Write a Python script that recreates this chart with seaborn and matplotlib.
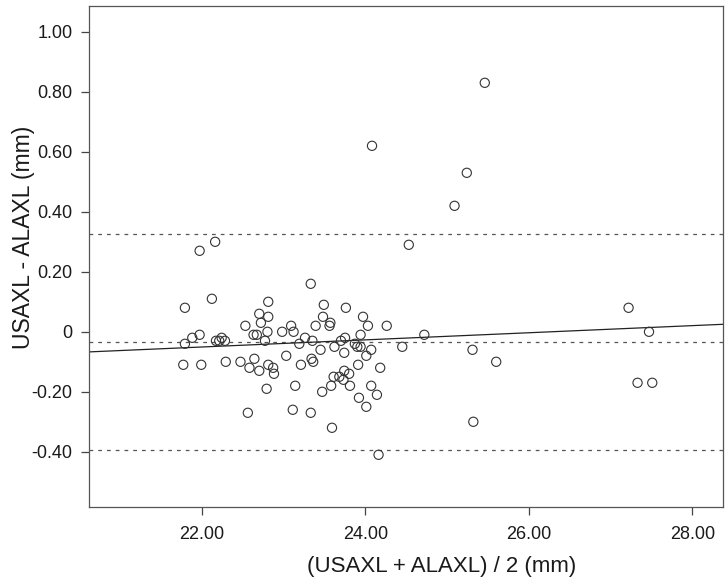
import numpy as np
import pandas as pd
import matplotlib
matplotlib.use("Agg")
import matplotlib.pyplot as plt
import seaborn as sns

# mean of the two measurements (mm)
mean_mm = [22.16, 21.97, 22.12, 21.79, 21.97, 21.88, 21.79, 22.17, 22.21, 22.24,
           22.28, 21.77, 21.99, 22.29, 22.47, 23.33, 22.81, 23.49, 22.70, 22.81,
           23.48, 22.72, 22.53, 23.57, 23.56, 23.39, 23.09, 22.80, 22.98, 23.12,
           22.63, 22.67, 22.77, 23.26, 23.35, 23.19, 23.62, 23.45, 23.03, 22.64,
           22.58, 22.81, 22.87, 22.88, 22.70, 23.34, 23.36, 23.21, 23.61, 23.58,
           23.14, 22.79, 23.47, 22.56, 23.11, 23.33, 23.59, 24.53, 23.76, 23.97,
           24.03, 24.26, 23.94, 24.72, 23.75, 23.70, 23.87, 23.90, 23.94, 24.07,
           24.45, 23.74, 24.01, 23.91, 24.18, 23.74, 23.80, 23.68, 23.73, 23.81,
           24.07, 24.14, 23.92, 24.01, 24.16, 25.46, 25.24, 25.09, 24.08, 25.31,
           25.60, 25.32, 27.22, 27.47, 27.33, 27.51]

# difference USAXL - ALAXL (mm)
diff_mm = [0.30, 0.27, 0.11, 0.08, -0.01, -0.02, -0.04, -0.03, -0.03, -0.02,
           -0.03, -0.11, -0.11, -0.10, -0.10, 0.16, 0.10, 0.09, 0.06, 0.05,
           0.05, 0.03, 0.02, 0.03, 0.02, 0.02, 0.02, 0.00, 0.00, 0.00,
           -0.01, -0.01, -0.03, -0.02, -0.03, -0.04, -0.05, -0.06, -0.08, -0.09,
           -0.12, -0.11, -0.12, -0.14, -0.13, -0.09, -0.10, -0.11, -0.15, -0.18,
           -0.18, -0.19, -0.20, -0.27, -0.26, -0.27, -0.32, 0.29, 0.08, 0.05,
           0.02, 0.02, -0.01, -0.01, -0.02, -0.03, -0.04, -0.05, -0.05, -0.06,
           -0.05, -0.07, -0.08, -0.11, -0.12, -0.13, -0.14, -0.15, -0.16, -0.18,
           -0.18, -0.21, -0.22, -0.25, -0.41, 0.83, 0.53, 0.42, 0.62, -0.06,
           -0.10, -0.30, 0.08, 0.00, -0.17, -0.17]

# mean difference and limits of agreement
mean_diff = -0.035
upper_loa = 0.327
lower_loa = -0.395

# fitted regression line of difference on mean
reg_point = (20.62, -0.067)
reg_slope = 0.01186

x_ticks = [22, 24, 26, 28]
x_labels = ["22.00", "24.00", "26.00", "28.00"]
y_ticks = [1.0, 0.8, 0.6, 0.4, 0.2, 0.0, -0.2, -0.4]
y_labels = ["1.00", "0.80", "0.60", "0.40", "0.20", "0", "-0.20", "-0.40"]

data = pd.DataFrame({"mean": mean_mm, "diff": diff_mm})

sns.set_style("ticks")
plt.rcParams["font.family"] = ["Liberation Sans", "DejaVu Sans"]

fig = plt.figure(figsize=(7.28, 5.84), dpi=100)
ax = fig.add_axes([0.1227, 0.1324, 0.8709, 0.8573])

line_col = "#555555"
for v in [upper_loa, mean_diff, lower_loa]:
    ax.axhline(v, color=line_col, lw=0.9, ls=(0, (3, 4)), zorder=1)
ax.axline(reg_point, slope=reg_slope, color="#222222", lw=0.9, zorder=2)

sns.scatterplot(data=data, x="mean", y="diff", ax=ax, marker="o", s=44,
                facecolor="none", edgecolor="#333333", linewidth=0.8, zorder=3)

ax.set_xlim(20.62, 28.38)
ax.set_ylim(-0.583, 1.086)
ax.set_xticks(x_ticks)
ax.set_xticklabels(x_labels)
ax.set_yticks(y_ticks)
ax.set_yticklabels(y_labels)
ax.tick_params(labelsize=13, length=6, width=0.9, color="#444444",
               labelcolor="#1a1a1a")
ax.tick_params(axis="y", pad=6)
ax.tick_params(axis="x", pad=8)
for s in ax.spines.values():
    s.set_color("#555555")
    s.set_linewidth(0.9)

ax.set_xlabel("(USAXL + ALAXL) / 2 (mm)", fontsize=16, color="#1a1a1a")
ax.set_ylabel("USAXL - ALAXL (mm)", fontsize=16.5, color="#1a1a1a")
ax.xaxis.set_label_coords(0.556, -0.098)
ax.yaxis.set_label_coords(-0.086, 0.538)

fig.savefig("out.png", dpi=100)
